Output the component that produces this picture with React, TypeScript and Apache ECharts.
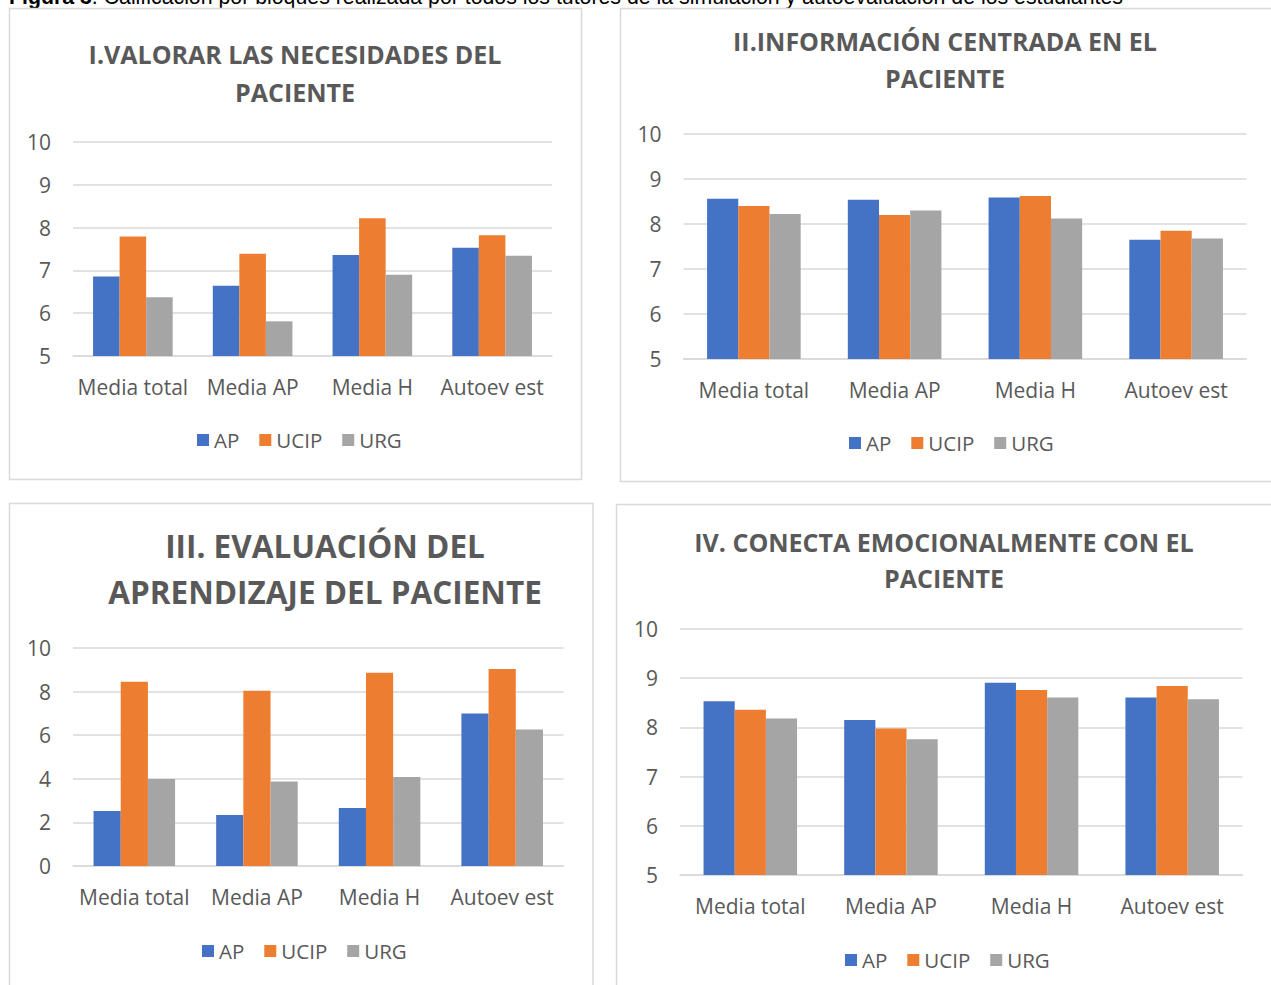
import React, { useEffect, useRef } from "react";
import * as echarts from "echarts";

const categories = ["Media total", "Media AP", "Media H", "Autoev est"];
const seriesNames = ["AP", "UCIP", "URG"];
const colors = ["#4472C4", "#ED7D31", "#A5A5A5"];

const chart1AP = [6.86, 6.64, 7.36, 7.53];
const chart1UCIP = [7.79, 7.39, 8.22, 7.82];
const chart1URG = [6.37, 5.81, 6.9, 7.34];

const chart2AP = [8.56, 8.54, 8.59, 7.65];
const chart2UCIP = [8.4, 8.2, 8.62, 7.85];
const chart2URG = [8.22, 8.3, 8.12, 7.68];

const chart3AP = [2.52, 2.34, 2.66, 6.99];
const chart3UCIP = [8.45, 8.04, 8.87, 9.04];
const chart3URG = [3.99, 3.88, 4.08, 6.26];

const chart4AP = [8.53, 8.15, 8.91, 8.61];
const chart4UCIP = [8.36, 7.98, 8.76, 8.84];
const chart4URG = [8.18, 7.76, 8.61, 8.57];

const titles = [
  ["I.VALORAR LAS NECESIDADES DEL", "PACIENTE"],
  ["II.INFORMACIÓN CENTRADA EN EL", "PACIENTE"],
  ["III. EVALUACIÓN DEL", "APRENDIZAJE DEL PACIENTE"],
  ["IV. CONECTA EMOCIONALMENTE CON EL", "PACIENTE"],
];

const captionLabel = "Figura 3";
const caption =
  "Calificación por bloques realizada por todos los tutores de la simulación y autoevaluación de los estudiantes";

const yMins = [5, 5, 0, 5];
const yMaxs = [10, 10, 10, 10];
const yIntervals = [1, 1, 2, 1];

const FONT = "'Open Sans', 'Noto Sans', sans-serif";
const GRAY = "#595959";

export default function App() {
  const ref = useRef<HTMLDivElement>(null);

  useEffect(() => {
    if (!ref.current) return;
    const chart = echarts.init(ref.current, undefined, { renderer: "svg" });

    const data = [
      [chart1AP, chart1UCIP, chart1URG],
      [chart2AP, chart2UCIP, chart2URG],
      [chart3AP, chart3UCIP, chart3URG],
      [chart4AP, chart4UCIP, chart4URG],
    ];

    const grids = [
      { left: 73, top: 142, width: 479, height: 214 },
      { left: 683.5, top: 134, width: 563, height: 225 },
      { left: 73, top: 648, width: 490.5, height: 218 },
      { left: 680, top: 629, width: 562.5, height: 246 },
    ];

    const legendPos = [
      { left: 197, top: 428 },
      { left: 849, top: 431 },
      { left: 202, top: 939 },
      { left: 845, top: 948 },
    ];

    const titlePos = [
      { x: 295, y1: 54, y2: 92, size: 25 },
      { x: 945, y1: 41, y2: 78, size: 25 },
      { x: 325, y1: 545, y2: 591, size: 31.5 },
      { x: 944, y1: 542, y2: 578, size: 25 },
    ];

    const series: any[] = [];
    data.forEach((group, gi) => {
      group.forEach((vals, si) => {
        series.push({
          type: "bar",
          name: seriesNames[si],
          xAxisIndex: gi,
          yAxisIndex: gi,
          data: vals,
          barGap: "0%",
          barCategoryGap: "33.5%",
          itemStyle: { color: colors[si] },
        });
      });
    });

    const graphic: any[] = [
      {
        type: "text",
        x: 9,
        y: -3,
        style: {
          text: "{b|" + captionLabel + "}{n|. " + caption + "}",
          textVerticalAlign: "middle",
          rich: {
            b: { fontFamily: "'Liberation Sans', Arial, sans-serif", fontSize: 21.3, fontWeight: "bold", fill: "#000" },
            n: { fontFamily: "'Liberation Sans', Arial, sans-serif", fontSize: 21.3, fill: "#000" },
          },
        },
      },
      { type: "rect", shape: { x: 9.5, y: 8.5, width: 572, height: 471 }, style: { fill: "none", stroke: "#d9d9d9", lineWidth: 1.5 } },
      { type: "rect", shape: { x: 620.5, y: 8.5, width: 700, height: 473 }, style: { fill: "none", stroke: "#d9d9d9", lineWidth: 1.5 } },
      { type: "rect", shape: { x: 9.5, y: 503.5, width: 583.5, height: 600 }, style: { fill: "none", stroke: "#d9d9d9", lineWidth: 1.5 } },
      { type: "rect", shape: { x: 616.5, y: 504.5, width: 700, height: 600 }, style: { fill: "none", stroke: "#d9d9d9", lineWidth: 1.5 } },
    ];
    titles.forEach((t, i) => {
      const p = titlePos[i];
      [p.y1, p.y2].forEach((yy, li) => {
        graphic.push({
          type: "text",
          x: p.x,
          y: yy,
          style: {
            text: t[li],
            fontFamily: FONT,
            fontSize: p.size,
            fontWeight: "bold",
            fill: GRAY,
            textAlign: "center",
            textVerticalAlign: "middle",
          },
        });
      });
    });

    chart.setOption({
      animation: false,
      backgroundColor: "#ffffff",
      grid: grids,
      xAxis: grids.map((_, i) => ({
        type: "category",
        gridIndex: i,
        data: categories,
        axisTick: { show: false },
        axisLine: { lineStyle: { color: "#d9d9d9", width: 1.5 } },
        axisLabel: { color: GRAY, fontFamily: FONT, fontSize: 21, margin: 20, interval: 0 },
      })),
      yAxis: grids.map((_, i) => ({
        type: "value",
        gridIndex: i,
        min: yMins[i],
        max: yMaxs[i],
        interval: yIntervals[i],
        axisLine: { show: false },
        axisTick: { show: false },
        splitLine: { lineStyle: { color: "#d9d9d9", width: 1.5 } },
        axisLabel: { color: GRAY, fontFamily: FONT, fontSize: 21, margin: 22 },
      })),
      legend: legendPos.map((lp) => ({
        left: lp.left,
        top: lp.top,
        padding: 0,
        data: seriesNames,
        icon: "rect",
        itemWidth: 12,
        itemHeight: 12,
        itemGap: 20,
        textStyle: { color: GRAY, fontFamily: FONT, fontSize: 20.5, lineHeight: 24 },
      })),
      series,
      graphic,
    });

    return () => chart.dispose();
  }, []);

  return (
    <div
      ref={ref}
      style={{ position: "absolute", left: 0, top: 0, width: 1271, height: 985 }}
    />
  );
}
